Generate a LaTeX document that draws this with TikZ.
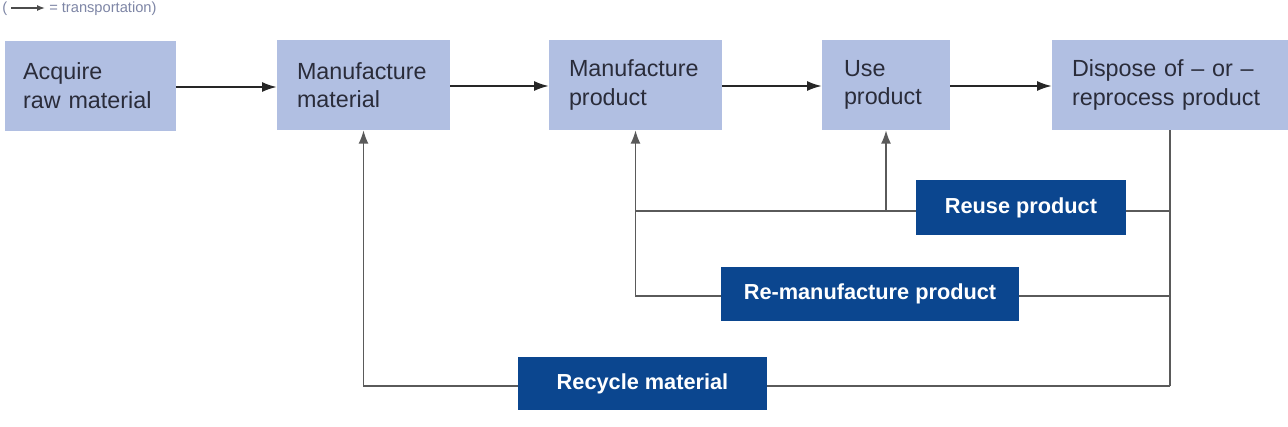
\documentclass[tikz,border=0pt]{standalone}
\usepackage{fontspec}
\setmainfont{Liberation Sans}
\usetikzlibrary{arrows.meta}
\definecolor{lightbox}{HTML}{B1BFE2}
\definecolor{darkbox}{HTML}{0B468F}
\definecolor{boxtext}{HTML}{2A2C3A}
\definecolor{retline}{HTML}{5A5A5A}
\definecolor{legendgrey}{HTML}{7E86A6}
\tikzset{
  stagebox/.style={fill=lightbox, draw=none, text=boxtext, align=left,
    font=\fontsize{17.5pt}{21.5pt}\selectfont, inner xsep=15pt, inner ysep=0pt,
    minimum height=67.5pt, anchor=center},
  loopbox/.style={fill=darkbox, draw=none, text=white, align=center,
    font=\fontsize{16.3pt}{19pt}\selectfont\bfseries, inner sep=0pt},
  flow/.style={draw=black!85, line width=1.3pt, -{Latex[length=11pt,width=7.5pt]}},
  retflow/.style={draw=retline, line width=1.3pt},
  retarrow/.style={retflow, -{Latex[length=10pt,width=7.5pt]}},
}
\begin{document}
\begin{tikzpicture}[x=0.75pt,y=-0.75pt]
\useasboundingbox (0,0) rectangle (1288,426);
\fill[white] (0,0) rectangle (1288,426);

% legend
\node[anchor=base west, inner sep=0pt, text=legendgrey, font=\fontsize{11pt}{13pt}\selectfont] (lp) at (2,12) {(};
\coordinate (la1) at (11,8);
\coordinate (la2) at (45,8);
\draw[draw=black!70, line width=1pt, -{Latex[length=6pt,width=4.5pt]}] (la1) -- (la2);
\node[anchor=base west, inner sep=0pt, text=legendgrey, font=\fontsize{11pt}{13pt}\selectfont] (lt) at (49,12) {= transportation)};

% stage boxes
\node[stagebox, minimum width=128.25pt, text width=101pt, inner xsep=11.25pt] (acq) at (90.5,85.5) {Acquire\\raw material};
\node[stagebox, minimum width=129.75pt, text width=99.75pt] (mmat) at (363.5,85) {Manufacture\\material};
\node[stagebox, minimum width=129.75pt, text width=99.75pt] (mprod) at (635.5,85) {Manufacture\\product};
\node[stagebox, minimum width=96pt, text width=63pt, inner xsep=16.5pt] (use) at (886,85) {Use\\product};
\node[stagebox, minimum width=177pt, text width=147pt] (disp) at (1170,85) {Dispose of -- or --\\reprocess product};

% forward flow
\draw[flow] (acq.east |- 0,87) -- (mmat.west |- 0,87);
\draw[flow] (mmat.east |- 0,86) -- (mprod.west |- 0,86);
\draw[flow] (mprod.east |- 0,86) -- (use.west |- 0,86);
\draw[flow] (use.east |- 0,86) -- (disp.west |- 0,86);

% return loops
\coordinate (r1) at (1170,211);
\coordinate (r2) at (1170,296);
\coordinate (r3) at (1170,386);
\draw[retflow] (disp.south) -- (r3);
\draw[retflow] (r1) -- (mprod.south |- r1);
\draw[retarrow] (use.south |- r1) -- (use.south);
\draw[retarrow] (r2) -| (mprod.south);
\draw[retarrow] (r3) -| (mmat.south);

% loop boxes
\node[loopbox, minimum width=157.5pt, minimum height=41.25pt] (reuse) at (1021,207.5) {Reuse product};
\node[loopbox, minimum width=223.5pt, minimum height=40.5pt] (reman) at (870,294) {Re-manufacture product};
\node[loopbox, minimum width=186.75pt, minimum height=39.75pt] (recyc) at (642.5,383.5) {Recycle material};
\end{tikzpicture}
\end{document}
